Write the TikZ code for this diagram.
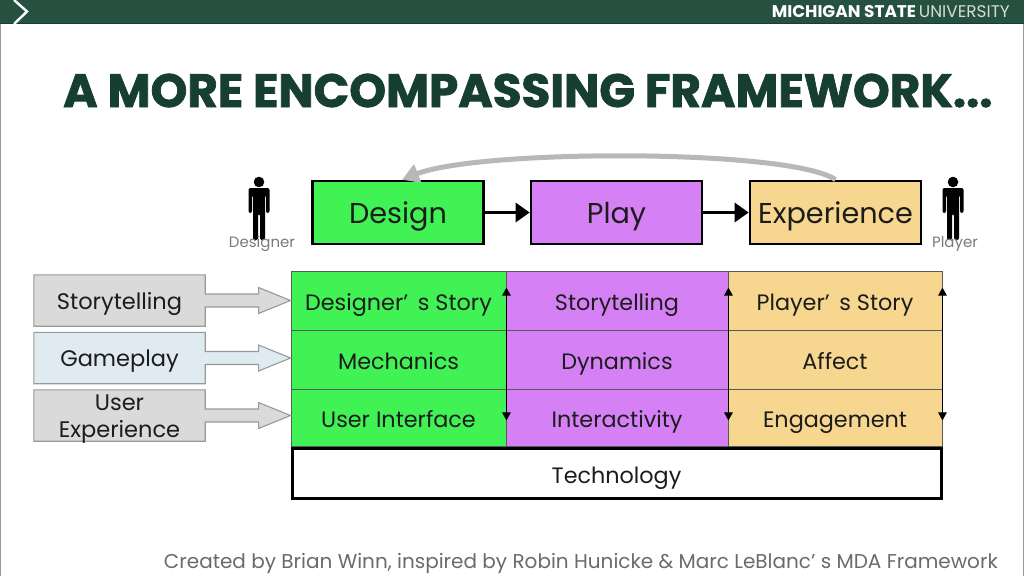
\documentclass[tikz,border=0pt]{standalone}
\usepackage{fontspec}
\setmainfont{Poppins}
\usetikzlibrary{arrows.meta,calc}
\definecolor{msu}{HTML}{26503F}
\definecolor{msudark}{HTML}{173F30}
\definecolor{cgreen}{HTML}{41F254}
\definecolor{cpurple}{HTML}{D580F5}
\definecolor{corange}{HTML}{F7D68F}
\definecolor{cgray}{HTML}{DADADA}
\definecolor{cblue}{HTML}{E0EBF1}
\definecolor{txt}{HTML}{1C1C1C}
\tikzset{
  x=1pt,y=-1pt,
  topbox/.style={draw=black,line width=2.6pt,minimum width=171pt,minimum height=63pt,inner sep=0pt,text=txt,text height=21pt,text depth=0pt,font=\fontsize{28.7}{32}\selectfont},
  cell/.style={draw=black!65,line width=.9pt,inner sep=0pt,text=txt,text height=19pt,text depth=0pt,font=\fontsize{22.3}{26}\selectfont},
  sidelabel/.style={minimum width=171pt,inner sep=0pt,align=center,text=txt,font=\fontsize{22.5}{27}\selectfont},
  sideshape/.style={draw=black!40,line width=1.1pt,line join=miter},
  flow/.style={draw=black,line width=3pt,-{Triangle[length=14pt,width=19pt]}},
  updown/.style={draw=black,line width=1pt,{Triangle[length=8pt,width=8.5pt]}-{Triangle[length=8pt,width=8.5pt]}},
  whotag/.style={inner sep=0pt,anchor=base,text=black!52,font=\fontsize{15}{17}\selectfont},
  person/.pic={
    \fill[black] (0,-31) circle (5.3);
    \fill[black,rounded corners=2pt] (-10.5,-25) -- (10.5,-25) -- (10.5,0) -- (7,0) -- (7,-18) -- (6,-18) -- (6,27) -- (1,27) -- (1,1) -- (-1,1) -- (-1,27) -- (-6,27) -- (-6,-18) -- (-7,-18) -- (-7,0) -- (-10.5,0) -- cycle;
  }
}
\begin{document}
\begin{tikzpicture}
\useasboundingbox (0,0) rectangle (1024,576);
\fill[white] (0,0) rectangle (1024,576);
\fill[black!40] (0,0) rectangle (1.2,576);
\fill[black!40] (1022.5,0) rectangle (1024,576);
% header
\fill[msu] (0,0) rectangle (1024,23);
\fill[msudark] (0,22.5) rectangle (1024,24);
\draw[white,line width=2.4pt] (14,0) -- (27,11.5) -- (14,24);
\node[anchor=base east,inner sep=0pt,text=white] (brand) at (1010,17) {\fontsize{16.9}{18}\selectfont\bfseries MICHIGAN STATE\,\textcolor{white!80!msu}{\mdseries UNIVERSITY}};
% title
\node[anchor=base west,inner sep=0pt,text=msudark] (title) at (63,107) {\fontsize{46.8}{50}\selectfont\bfseries\addfontfeature{FakeBold=1.6}A MORE ENCOMPASSING FRAMEWORK...};
% top row
\node[topbox,fill=cgreen] (design) at (398,212.5) {Design};
\node[topbox,fill=cpurple] (play) at (616.5,212.5) {Play};
\node[topbox,fill=corange] (exper) at (835.5,212.5) {Experience};
\draw[flow] (design.east) -- (play.west);
\draw[flow] (play.east) -- (exper.west);
\draw[draw=black!28,line width=5pt,-{Triangle[length=17pt,width=19pt]}] (exper.north) .. controls +(-45,-31) and (480,149) .. ([xshift=4pt]design.north);
% persons
\pic at (259,213) {person};
\pic at (953,213) {person};
\node[whotag] (dtag) at (262,247) {Designer};
\node[whotag] (ptag) at (955,247) {Player};
% table
\foreach \nm/\cx/\cwid/\col/\txa/\txb/\txc in {
  a/398.5/215/cgreen/Designer’ \,s Story/Mechanics/User Interface,
  b/617/222/cpurple/Storytelling/Dynamics/Interactivity,
  c/835/214/corange/Player’ \,s Story/Affect/Engagement}{
  \node[cell,fill=\col,minimum width=\cwid pt,minimum height=59pt] (\nm1) at (\cx,300.5) {\txa};
  \node[cell,fill=\col,minimum width=\cwid pt,minimum height=59pt] (\nm2) at (\cx,359.5) {\txb};
  \node[cell,fill=\col,minimum width=\cwid pt,minimum height=57pt] (\nm3) at (\cx,417.5) {\txc};
}
\foreach \nm in {a,b,c}{
  \draw[updown] ([yshift=-17pt]\nm1.north east) -- ([yshift=26pt]\nm3.south east);
}
\node[draw=black,line width=3pt,fill=white,minimum width=649pt,minimum height=50pt,inner sep=0pt,text=txt,text height=19pt,text depth=0pt,font=\fontsize{22.3}{26}\selectfont] (tech) at (616.5,473.5) {Technology};
% side callouts
\foreach \nm/\cy/\col/\lab/\tgt in {
  s1/300.5/cgray/Storytelling/a1,
  s2/358/cblue/Gameplay/a2,
  s3/415.5/cgray/{User\\Experience}/a3}{
  \coordinate (\nm c) at (119.5,\cy);
  \path (\nm c) node[sidelabel,minimum height=51pt] (\nm box) {};
  \coordinate (\nm tip) at (\tgt.west|-\nm box.east);
  \path[sideshape,fill=\col,draw] (\nm box.north west) -- (\nm box.north east) -- ([yshift=6.5pt]\nm box.east) -- ([xshift=-32pt,yshift=6.5pt]\nm tip) -- ([xshift=-32pt,yshift=13pt]\nm tip) -- (\nm tip) -- ([xshift=-32pt,yshift=-13pt]\nm tip) -- ([xshift=-32pt,yshift=-6.5pt]\nm tip) -- ([yshift=-6.5pt]\nm box.east) -- (\nm box.south east) -- (\nm box.south west) -- cycle;
  \node[sidelabel,minimum height=51pt,yshift=-3.5pt] (\nm) at (\nm c) {\lab};
}
% footer
\node[anchor=base east,inner sep=0pt,text=black!58] (foot) at (998,568) {\fontsize{20}{22}\selectfont Created by Brian Winn, inspired by Robin Hunicke \& Marc LeBlanc’ s MDA Framework};
\end{tikzpicture}
\end{document}
